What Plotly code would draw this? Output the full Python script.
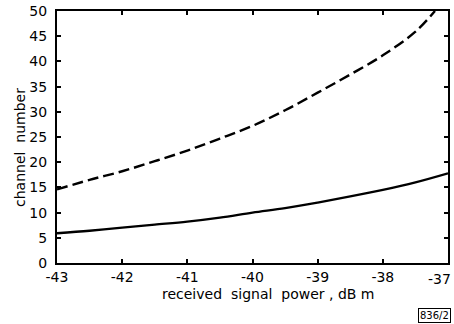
import plotly.graph_objects as go

# solid curve
solid_x = [-43, -42.5, -42, -41.5, -41, -40.5, -40, -39.5, -39, -38.5, -38, -37.5, -37]
solid_y = [5.9, 6.4, 7.0, 7.6, 8.2, 9.0, 10.0, 10.9, 12.0, 13.2, 14.5, 16.0, 17.8]

# dashed curve
dash_x = [-43, -42.5, -42, -41.5, -41, -40.5, -40, -39.5, -39, -38.5, -38, -37.5, -37.2]
dash_y = [14.6, 16.5, 18.2, 20.2, 22.3, 24.7, 27.2, 30.3, 33.8, 37.4, 41.2, 45.9, 50.0]

x_ticks = [-43, -42, -41, -40, -39, -38, -37]
x_ticktext = ["-43", "-42", "-41", "-40", "-39", "-38", "-37"]
y_ticks = [0, 5, 10, 15, 20, 25, 30, 35, 40, 45, 50]

FONT = "DejaVu Sans"
L, R, T, B = 57, 6, 11, 61
W, H = 454, 324
pw = W - L - R
ph = H - T - B


def px(xp):
    return (xp - L) / pw


def py(yp):
    return (H - B - yp) / ph


# last x tick label sits at the page edge; drawn as annotation so it is not clipped
shown_ticktext = x_ticktext[:-1] + [""]

fig = go.Figure()
fig.add_trace(go.Scatter(x=solid_x, y=solid_y, mode="lines",
                         line=dict(color="black", width=2.3, shape="spline"), showlegend=False))
fig.add_trace(go.Scatter(x=dash_x, y=dash_y, mode="lines",
                         line=dict(color="black", width=2.4, dash="11px,5px", shape="spline"), showlegend=False))

fig.update_layout(
    width=W, height=H,
    margin=dict(l=L, r=R, t=T, b=B, autoexpand=False),
    paper_bgcolor="white", plot_bgcolor="white",
    font=dict(family=FONT, color="black", size=14),
    xaxis=dict(
        range=[-43, -37], tickvals=x_ticks, ticktext=shown_ticktext, automargin=False,
        showgrid=False, zeroline=False, showline=True, linecolor="black", linewidth=2,
        mirror="ticks", ticks="inside", ticklen=4, tickwidth=1.5, tickcolor="black",
        ticklabeloverflow="allow",
    ),
    yaxis=dict(
        range=[0, 50], tickvals=y_ticks, automargin=False,
        showgrid=False, zeroline=False, showline=True, linecolor="black", linewidth=2,
        mirror="ticks", ticks="inside", ticklen=4, tickwidth=1.5, tickcolor="black",
        ticklabeloverflow="allow", ticklabelstandoff=5,
    ),
    annotations=[
        dict(text=x_ticktext[-1], x=1.0, y=0, xref="paper", yref="paper", xshift=R - 1, yshift=-6,
             showarrow=False, xanchor="right", yanchor="top", font=dict(size=14, family=FONT)),
        dict(text="received  signal  power , dB m", x=px(268), y=py(294), xref="paper", yref="paper",
             showarrow=False, xanchor="center", yanchor="middle", font=dict(size=14, family=FONT)),
        dict(text="channel  number", x=px(20), y=py(148), xref="paper", yref="paper", textangle=-90,
             showarrow=False, xanchor="center", yanchor="middle", font=dict(size=14, family=FONT)),
        dict(text="836/2", x=px(434), y=py(315), xref="paper", yref="paper", showarrow=False,
             xanchor="center", yanchor="middle",
             font=dict(size=10, family=FONT), bordercolor="black", borderwidth=1, borderpad=1),
    ],
)

fig.write_html("out.html")
